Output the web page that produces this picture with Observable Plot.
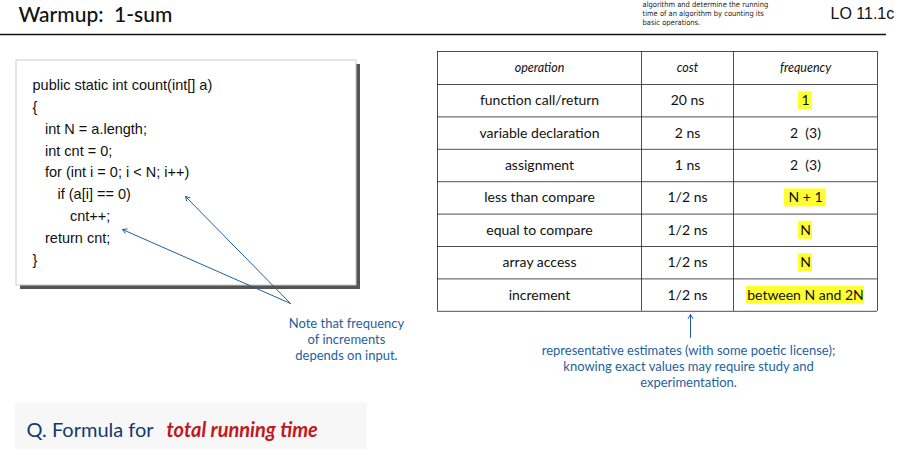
<!DOCTYPE html>
<html><head><meta charset="utf-8">
<script src="https://cdn.jsdelivr.net/npm/d3@7"></script>
<script src="https://cdn.jsdelivr.net/npm/@observablehq/plot@0.6"></script>
<style>body{margin:0;background:#fff}</style>
</head><body><div id="chart"></div>
<script>
const operations = ["function call/return","variable declaration","assignment","less than compare","equal to compare","array access","increment"];
const costs = ["20 ns","2 ns","1 ns","1/2 ns","1/2 ns","1/2 ns","1/2 ns"];
const frequencies = ["1","2  (3)","2  (3)","N + 1","N","N","between N and 2N"];
const highlighted = [true,false,false,true,true,true,true];
const headers = ["operation","cost","frequency"];
const codeLines = ["public static int count(int[] a)","{","int N = a.length;","int cnt = 0;","for (int i = 0; i < N; i++)","if (a[i] == 0)","cnt++;","return cnt;","}"];
const codeIndent = [0,0,1,1,1,2,3,1,0];
const noteLines = ["Note that frequency","of increments","depends on input."];
const estLines = ["representative estimates (with some poetic license);","knowing exact values may require study and","experimentation."];
const topLines = ["algorithm and determine the running","time of an algorithm by counting its","basic operations."];

// layout
const colX = [437,641,733,877], rowTop = 51, headH = 33, rowH = 32.4;
const colMid = [0,1,2].map(i => (colX[i]+colX[i+1])/2);
const rowY = i => rowTop + headH + rowH*i + rowH/2;
const hlW = [14,0,0,42,14,14,118];
const blue = "#1f5fa0";

const cells = [];
operations.forEach((op,i) => {
  cells.push({x: colMid[0], y: rowY(i), t: op});
  cells.push({x: colMid[1], y: rowY(i), t: costs[i]});
  cells.push({x: colMid[2], y: rowY(i), t: frequencies[i]});
});
const hl = frequencies.map((f,i) => ({i, w: hlW[i]})).filter(d => highlighted[d.i]);
const hLines = d3.range(operations.length+2).map(k => k===0 ? rowTop : rowTop+headH+rowH*(k-1));
const code = codeLines.map((t,i) => ({t, x: 32 + codeIndent[i]*12.5, y: 85 + i*21.8}));

const chart = Plot.plot({
  width: 922, height: 466, margin: 0,
  x: {domain: [0,922], range: [0,922], axis: null},
  y: {domain: [0,466], range: [0,466], axis: null},
  style: {fontFamily: "Lato, sans-serif", background: "#fff"},
  marks: [
    // header
    Plot.text(["Warmup:  1-sum"], {x: 18, y: 15, text: d => d, textAnchor: "start", fontSize: 21, fill: "#111", fontWeight: 500}),
    Plot.ruleY([34], {x1: 0, x2: 886, stroke: "#111", strokeWidth: 1.3}),
    Plot.text(topLines, {x: 642, y: (d,i) => 4 + i*9, text: d => d, textAnchor: "start", fontSize: 7.5, fill: "#222", fontFamily: "DejaVu Sans Condensed"}),
    Plot.text(["LO 11.1c"], {x: 830, y: 13, text: d => d, textAnchor: "start", fontSize: 16, fill: "#111", fontFamily: "Liberation Sans"}),
    // code box
    Plot.rect([0], {x1: 20, x2: 360, y1: 64, y2: 289, fill: "#555"}),
    Plot.rect([0], {x1: 16, x2: 356, y1: 60, y2: 285, fill: "#fff", stroke: "#ccc"}),
    Plot.text(code, {x: "x", y: "y", text: "t", textAnchor: "start", fontSize: 14.5, fill: "#111", fontFamily: "Liberation Sans"}),
    // table
    Plot.rect(hl, {x1: d => colMid[2]-d.w/2, x2: d => colMid[2]+d.w/2, y1: d => rowY(d.i)-9, y2: d => rowY(d.i)+9, fill: "#ffff33"}),
    Plot.ruleY(hLines, {x1: colX[0], x2: colX[3], stroke: "#222", strokeWidth: 0.8}),
    Plot.ruleX(colX, {y1: rowTop, y2: hLines[hLines.length-1], stroke: "#222", strokeWidth: 0.8}),
    Plot.text(headers, {x: (d,i) => colMid[i], y: rowTop + headH/2, text: d => d, fontSize: 12.5, fontStyle: "italic", fill: "#111"}),
    Plot.text(cells, {x: "x", y: "y", text: "t", fontSize: 14, fill: "#111"}),
    // arrows
    Plot.arrow([{x1: 290, y1: 303, x2: 185, y2: 196}, {x1: 290, y1: 303, x2: 122, y2: 229}, {x1: 690, y1: 337, x2: 690, y2: 314}],
      {x1: "x1", y1: "y1", x2: "x2", y2: "y2", stroke: blue, strokeWidth: 1, headLength: 7}),
    Plot.text(noteLines, {x: 346, y: (d,i) => 323 + i*16, text: d => d, fontSize: 13, fill: blue}),
    Plot.text(estLines, {x: 688, y: (d,i) => 350 + i*16, text: d => d, fontSize: 13, fill: blue}),
    // Q box
    Plot.rect([0], {x1: 15, x2: 367, y1: 402, y2: 449, fill: "#f7f7f7"}),
    Plot.text(["Q. Formula for"], {x: 26, y: 430, text: d => d, textAnchor: "start", fontSize: 20, fill: "#123b6d"}),
    Plot.text(["total running time"], {x: 166, y: 430, text: d => d, textAnchor: "start", fontSize: 20, fill: "#c4161c", fontWeight: "bold", fontStyle: "italic"})
  ]
});
document.getElementById("chart").append(chart);
</script></body></html>
